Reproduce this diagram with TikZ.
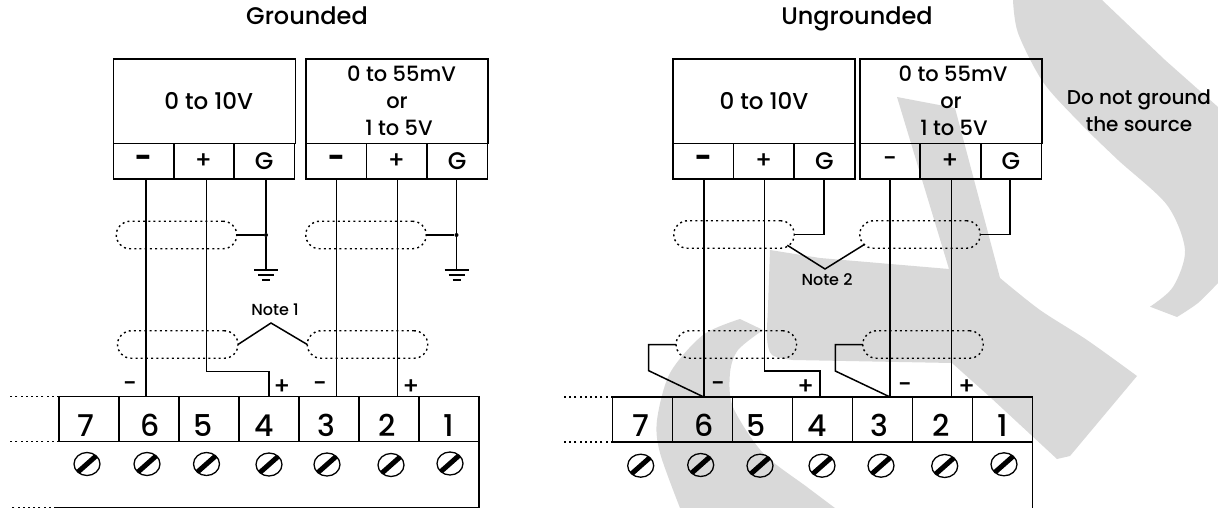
\documentclass[tikz,border=0pt]{standalone}
\usepackage{fontspec}
\setmainfont{Poppins}[UprightFont=* Medium,BoldFont=* Bold]
\usetikzlibrary{shapes.geometric}
\definecolor{wmgray}{HTML}{D9D9D9}
\tikzset{
  wire_l/.style = {line width=1.5pt},
  stub_l/.style = {line width=1.4pt, dash pattern=on 2pt off 3.2pt},
  box_n/.style = {rectangle, draw=black, line width=1.5pt, inner sep=0pt, outer sep=0pt,
    align=center, minimum width=182pt, minimum height=84.5pt,
    font=\fontsize{21}{27}\selectfont},
  cell_n/.style = {rectangle, draw=black, line width=1.5pt, inner sep=0pt, outer sep=0pt,
    minimum width=60.5pt, minimum height=35.5pt, font=\fontsize{24}{26}\selectfont},% box terminals
  neg_n/.style = {cell_n, font=\fontsize{29}{30}\bfseries\selectfont},% heavy minus
  term_n/.style = {rectangle, draw=black, line width=1.5pt, inner sep=0pt, outer sep=0pt,
    minimum width=60pt, minimum height=45pt, text height=37pt, text depth=3pt,
    font=\fontsize{30}{32}\selectfont},% numbered terminals
  shd_n/.style = {rectangle, draw=black, line width=1.4pt, dash pattern=on 2pt off 3.2pt,
    rounded corners=13.7pt, inner sep=0pt, outer sep=0pt,
    minimum width=120.5pt, minimum height=27.5pt},% cable shield
  scr_n/.style = {ellipse, draw=black, line width=1.3pt, inner sep=0pt,
    minimum width=26pt, minimum height=23pt,
    path picture={\draw[line width=5pt] (path picture bounding box.south west)
      -- (path picture bounding box.north east);}},
  dot_n/.style = {circle, fill=black, inner sep=0pt, minimum size=4pt},
  txt_n/.style = {inner sep=0pt, font=\fontsize{20}{27}\selectfont, align=center},
  ttl_n/.style = {inner sep=0pt, anchor=base, font=\fontsize{24}{27}\selectfont},
  sgn_n/.style = {inner sep=0pt, font=\fontsize{24}{26}\selectfont},
  not_n/.style = {inner sep=0pt, font=\fontsize{16}{18}\selectfont},
  gnd/.pic = {
    \draw[wire_l] (-12,0) -- (12,0);
    \draw[wire_l] (-8,5) -- (8,5);
    \draw[line width=1.8pt] (-4,10) -- (4,10);
  }
}
\begin{document}
\begin{tikzpicture}[x=1pt,y=-1pt]
  \useasboundingbox (0,0) rectangle (1218,508);
  % watermark
  \fill[wmgray] (1013,0) -- (1102,0) -- (1165,60) -- (1218,107) -- (1218,283)
    -- plot[smooth] coordinates {(1218,283) (1198,303) (1177,317)}
    -- (1150,306.7)
    -- plot[smooth] coordinates {(1150,306.7) (1173,287) (1185,250) (1167,205) (1118,160)
       (1080,123) (1043,82) (1018,33) (1013,0)} -- cycle;
  \fill[wmgray] (770,250) -- (820,258) -- (949,269) -- (897,97) -- (955,108) -- (1000,278)
    -- plot[smooth] coordinates {(1000,278) (1040,310) (1087,340) (1137,376)}
    -- (1070,456) -- (1057,459) -- (990,397) -- (952,363) -- (793,360)
    -- plot[smooth] coordinates {(793,360) (772,355) (767,338) (768,307) (770,250)} -- cycle;
  \fill[wmgray] (740,319) -- (763,330)
    -- plot[smooth] coordinates {(763,330) (738,350) (730,373) (733,407) (763,453) (807,487) (835,508)}
    -- (680,508)
    -- plot[smooth] coordinates {(680,508) (660,453) (657,420) (670,373) (703,335) (740,319)} -- cycle;
  % titles
  \node[ttl_n] (t1) at (307,25) {Grounded};
  \node[ttl_n] (t2) at (857,25) {Ungrounded};
  \node[txt_n] (t3) at (1139,111) {Do not ground\\the source};
  % grounded boxes
  \node[box_n, font=\fontsize{23}{27}\selectfont] (a0) at (204.25,101.25) {\hspace*{9pt}0 to 10V};
  \node[neg_n] (a1) at (143.5,161.25) {−};
  \node[cell_n] (a2) at (203.5,161.25) {+};
  \node[cell_n] (a3) at (264.25,161.25) {G};
  \node[box_n] (b0) at (397,101.25) {\hspace*{9pt}0 to 55mV\\or\hspace*{9pt}\\\hspace*{4pt}1 to 5V};
  \node[neg_n] (b1) at (336.25,161.25) {−};
  \node[cell_n] (b2) at (396.5,161.25) {+};
  \node[cell_n] (b3) at (457.25,161.25) {G};
  % ungrounded boxes
  \node[box_n, font=\fontsize{23}{27}\selectfont] (c0) at (764,101.25) {\raisebox{-3pt}{0 to 10V}};
  \node[neg_n] (c1) at (703.25,161.25) {−};
  \node[cell_n] (c2) at (763.75,161.25) {+};
  \node[cell_n] (c3) at (824.5,161.25) {G};
  \node[box_n] (d0) at (951,101.25) {\hspace*{4pt}0 to 55mV\\or\hspace*{8pt}\\\hspace*{6pt}1 to 5V};
  \node[cell_n] (d1) at (890,161.25) {−};
  \node[cell_n] (d2) at (950,161.25) {+};
  \node[cell_n] (d3) at (1011,161.25) {G};
  % left terminal block
  \node[term_n] (l7) at (89,419.2) {7\hspace*{6pt}};
  \node[term_n] (l6) at (149,419.2) {\hspace*{2pt}6};
  \node[term_n] (l5) at (209,419.2) {5\hspace*{12pt}};
  \node[term_n] (l4) at (269,419.2) {4\hspace*{10pt}};
  \node[term_n] (l3) at (329,419.2) {3\hspace*{6pt}};
  \node[term_n] (l2) at (389,419.2) {2\hspace*{4pt}};
  \node[term_n] (l1) at (449,419.2) {1};
  \node[scr_n] (ls7) at (87,464) {};
  \node[scr_n] (ls6) at (147,464) {};
  \node[scr_n] (ls5) at (206.5,464) {};
  \node[scr_n] (ls4) at (269,464.5) {};
  \node[scr_n] (ls3) at (327,464.5) {};
  \node[scr_n] (ls2) at (391,465) {};
  \node[scr_n] (ls1) at (450,463.5) {};
  % right terminal block
  \node[term_n] (r7) at (642.7,419.5) {7\hspace*{4pt}};
  \node[term_n] (r6) at (702.7,419.5) {\hspace*{2pt}6};
  \node[term_n] (r5) at (762.7,419.5) {5\hspace*{14pt}};
  \node[term_n] (r4) at (822.7,419.5) {4\hspace*{11pt}};
  \node[term_n] (r3) at (882.7,419.5) {3\hspace*{7pt}};
  \node[term_n] (r2) at (942.7,419.5) {2\hspace*{3pt}};
  \node[term_n] (r1) at (1002.7,419.5) {1};
  \node[scr_n] (rs7) at (640.7,465.7) {};
  \node[scr_n] (rs6) at (700.7,465) {};
  \node[scr_n] (rs5) at (760,465.7) {};
  \node[scr_n] (rs4) at (822,465.7) {};
  \node[scr_n] (rs3) at (881,465.7) {};
  \node[scr_n] (rs2) at (944.7,466) {};
  \node[scr_n] (rs1) at (1004,464.3) {};
  % block bodies and dotted ends
  \coordinate (lb) at (56,507.5);
  \coordinate (rb) at (1032.7,508);
  \coordinate (e1) at (10,396.7);
  \coordinate (e2) at (10,441.7);
  \coordinate (e3) at (10,507.5);
  \coordinate (e4) at (563,397);
  \coordinate (e5) at (564,442);
  \draw[wire_l] (l1.south east) |- (lb);
  \draw[wire_l] (r1.south east) -- (rb);
  \draw[stub_l] (l7.north west) -- (e1);
  \draw[stub_l] (l7.south west) -- (e2);
  \draw[stub_l] (lb) -- (e3);
  \draw[stub_l] (r7.north west) -- (e4);
  \draw[stub_l] (r7.south west) -- (e5);
  % shields
  \node[shd_n] (s1) at (176.5,235) {};
  \node[shd_n] (s2) at (366,235) {};
  \node[shd_n] (s3) at (177.75,344.5) {};
  \node[shd_n] (s4) at (367.5,344.5) {};
  \node[shd_n] (s5) at (734,234.5) {};
  \node[shd_n] (s6) at (920,234.5) {};
  \node[shd_n] (s7) at (736.3,344.5) {};
  \node[shd_n] (s8) at (923,344.5) {};
  % grounded wires
  \node[dot_n] (g1) at (266,235) {};
  \node[dot_n] (g2) at (456.5,235) {};
  \coordinate (g1e) at (266,270);
  \coordinate (g2e) at (456.5,270);
  \coordinate (k1) at (269,371.7);
  \draw[wire_l] ([xshift=2.5pt]a1.south) -- ([xshift=2.5pt]a1.south |- l6.north);
  \draw[wire_l] ([xshift=3pt]a2.south) |- (k1) -- (l4.north);
  \draw[wire_l] ([xshift=1.75pt]a3.south) -- (g1) -- (g1e);
  \draw[wire_l] (s1.east) -- (g1);
  \draw[wire_l] (b1.south) -- (b1.south |- l3.north);
  \draw[wire_l] ([xshift=1pt]b2.south) -- ([xshift=1pt]b2.south |- l2.north);
  \draw[wire_l] ([xshift=-.75pt]b3.south) -- (g2) -- (g2e);
  \draw[wire_l] (s2.east) -- (g2);
  \pic at (g1e) {gnd};
  \pic at (g2e) {gnd};
  % ungrounded wires
  \coordinate (k2) at (820,371);
  \coordinate (q1) at (648.7,344.5);
  \coordinate (q2) at (648.7,370.7);
  \coordinate (q3) at (835.3,344.5);
  \coordinate (q4) at (835.3,371);
  \draw[wire_l] ([xshift=.5pt]c1.south) -- ([xshift=.5pt]c1.south |- r6.north);
  \draw[wire_l] ([xshift=.5pt]c2.south) |- (k2) -- (k2 |- r4.north);
  \draw[wire_l] ([xshift=-.5pt]c3.south) |- (s5.east);
  \draw[wire_l] (d1.south) -- (d1.south |- r3.north);
  \draw[wire_l] ([xshift=1.3pt]d2.south) -- ([xshift=1.3pt]d2.south |- r2.north);
  \draw[wire_l] ([xshift=-1pt]d3.south) |- (s6.east);
  \draw[wire_l] (s7.west) -- (q1) -- (q2) -- ([xshift=.5pt]c1.south |- r6.north);
  \draw[wire_l] (s8.west) -- (q3) -- (q4) -- (d1.south |- r3.north);
  % notes
  \node[not_n] (n1) at (275,310) {Note 1};
  \node[not_n] (n2) at (827,280) {Note 2};
  \coordinate (p1) at (271,323);
  \coordinate (p2) at (825,269);
  \draw[wire_l] (s3.east) -- (p1) -- (s4.west);
  \draw[wire_l] ([xshift=-7pt,yshift=3pt]s5.south east) -- (p2)
    -- ([xshift=5pt,yshift=4pt]s6.south west);
  % signs at the terminals
  \node[sgn_n] (m1) at (130,387) {−};
  \node[sgn_n] (m2) at (282,387) {+};
  \node[sgn_n] (m3) at (320,387) {−};
  \node[sgn_n] (m4) at (411,387) {+};
  \node[sgn_n] (m5) at (718,387) {−};
  \node[sgn_n] (m6) at (805.7,387) {+};
  \node[sgn_n] (m7) at (905,388) {−};
  \node[sgn_n] (m8) at (966.7,387) {+};
\end{tikzpicture}
\end{document}
